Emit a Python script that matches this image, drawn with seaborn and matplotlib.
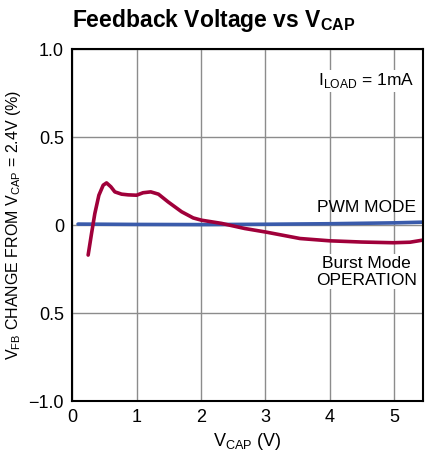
"""
Feedback voltage vs V_CAP chart
"""

import matplotlib
matplotlib.use('Agg')
import matplotlib.pyplot as plt
import seaborn as sns
import pandas as pd
from matplotlib.ticker import FixedLocator

# burst mode curve
burst_vcap = [0.247, 0.30, 0.351, 0.414, 0.481, 0.533, 0.60, 0.662, 0.767, 0.87, 1.0,
              1.10, 1.22, 1.34, 1.49, 1.70, 1.88, 2.01, 2.32, 2.68, 3.02, 3.54, 4.0,
              4.5, 4.99, 5.25, 5.45]
burst_vfb = [-0.170, -0.047, 0.066, 0.170, 0.227, 0.240, 0.218, 0.189, 0.176, 0.172, 0.170,
             0.184, 0.189, 0.176, 0.132, 0.076, 0.041, 0.028, 0.010, -0.019, -0.040, -0.076,
             -0.089, -0.096, -0.100, -0.097, -0.085]

# PWM mode curve
pwm_vcap = [0.09, 1.0, 2.0, 3.0, 4.0, 5.0, 5.45]
pwm_vfb = [0.006, 0.004, 0.003, 0.005, 0.008, 0.013, 0.017]

y_ticks = [1.0, 0.5, 0.0, -0.5, -1.0]
y_labels = ['1.0', '0.5', '0', '0.5', '\u22121.0']
x_ticks = [0, 1, 2, 3, 4, 5]

sns.set_style('white')
plt.rcParams['font.family'] = ['Liberation Sans', 'DejaVu Sans']
plt.rcParams['text.color'] = 'black'
plt.rcParams['xtick.color'] = 'black'
plt.rcParams['ytick.color'] = 'black'
plt.rcParams['axes.labelcolor'] = 'black'
plt.rcParams['mathtext.fontset'] = 'custom'
plt.rcParams['mathtext.rm'] = 'Liberation Sans'
plt.rcParams['mathtext.bf'] = 'Liberation Sans:bold'

burst = pd.DataFrame({'vcap': burst_vcap, 'vfb': burst_vfb})
pwm = pd.DataFrame({'vcap': pwm_vcap, 'vfb': pwm_vfb})

fig = plt.figure(figsize=(4.25, 4.59), dpi=100)
ax = fig.add_axes([0.170, 0.126, 0.825, 0.767])

sns.lineplot(data=pwm, x='vcap', y='vfb', ax=ax, color='#3a5bab', linewidth=2.6,
             solid_joinstyle='round', solid_capstyle='round')
sns.lineplot(data=burst, x='vcap', y='vfb', ax=ax, color='#a0003a', linewidth=2.6,
             solid_joinstyle='round', solid_capstyle='round')

ax.set_xlim(0, 5.45)
ax.set_ylim(-1.0, 1.0)
ax.xaxis.set_major_locator(FixedLocator(x_ticks))
ax.set_xticklabels([str(t) for t in x_ticks])
ax.yaxis.set_major_locator(FixedLocator(y_ticks))
ax.set_yticklabels(y_labels)
ax.tick_params(length=0, labelsize=13, pad=6)
ax.grid(True, color='#8c8c8c', linewidth=1.0)
ax.set_axisbelow(True)
for s in ax.spines.values():
    s.set_color('black')
    s.set_linewidth(1.5)

ax.set_xlabel(r'V$_{\mathrm{CAP}}$ (V)', fontsize=13, labelpad=3)
ax.set_ylabel(r'V$_{\mathrm{FB}}$ CHANGE FROM V$_{\mathrm{CAP}}$ = 2.4V (%)', fontsize=11.5,
              labelpad=4)

ax.text(4.57, 0.10, 'PWM MODE', ha='center', va='center', fontsize=12.5)
ax.text(4.57, -0.265, 'Burst Mode\nOPERATION', ha='center', va='center', fontsize=12.5,
        linespacing=1.15, bbox=dict(facecolor='white', edgecolor='none', pad=1))
ax.text(4.57, 0.82, r'I$_{\mathrm{LOAD}}$ = 1mA', ha='center', va='center', fontsize=12.5,
        bbox=dict(facecolor='white', edgecolor='none', pad=1))

fig.text(0.170, 0.955, r'Feedback Voltage vs V$_{\mathbf{CAP}}$', fontsize=16.5,
         fontweight='bold', ha='left', va='center')

fig.savefig('out.png', dpi=100)
plt.close()
